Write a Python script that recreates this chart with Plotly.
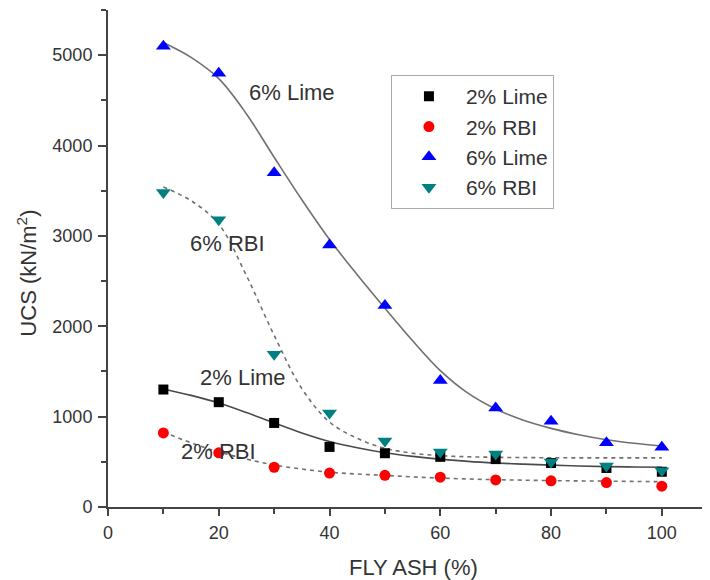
import plotly.graph_objects as go

# ---- data ----
fly_ash = [10, 20, 30, 40, 50, 60, 70, 80, 90, 100]
lime2 = [1300, 1160, 930, 665, 595, 555, 530, 487, 432, 390]
rbi2 = [820, 600, 440, 375, 350, 330, 300, 290, 270, 230]
lime6 = [5100, 4800, 3700, 2900, 2230, 1400, 1095, 950, 710, 660]
rbi6 = [3480, 3180, 1690, 1040, 730, 610, 587, 498, 454, 400]

# fitted curves at 5% steps
fit_x = [10, 15, 20, 25, 30, 35, 40, 45, 50, 55, 60, 65, 70, 75, 80, 85, 90, 95, 100]
lime6_fit = [5140, 4975, 4740, 4350, 3870, 3400, 2960, 2570, 2200, 1840, 1510, 1260,
             1085, 960, 870, 800, 745, 705, 675]
rbi6_fit = [3540, 3390, 3130, 2560, 1900, 1310, 940, 760, 650, 595, 568, 556,
            550, 547, 545, 544, 544, 544, 544]
lime2_fit = [1306, 1235, 1150, 1045, 930, 820, 725, 655, 600, 560, 530, 505,
             487, 474, 463, 454, 447, 443, 440]
rbi2_fit = [830, 710, 610, 530, 465, 420, 385, 365, 350, 333, 320, 310,
            302, 297, 292, 289, 286, 283, 280]

series_names = ["2% Lime", "2% RBI", "6% Lime", "6% RBI"]
labels = ["6% Lime", "6% RBI", "2% Lime", "2% RBI"]

FONT = "Liberation Sans, Arial, sans-serif"
TXT = "#333333"
CURVE = "#707070"
AX = "#444444"

fig = go.Figure()

# fit curves (drawn first, behind markers)
fig.add_trace(go.Scatter(x=fit_x, y=lime6_fit, mode="lines", showlegend=False,
                         line=dict(color=CURVE, width=1.6, shape="spline"), hoverinfo="skip"))
fig.add_trace(go.Scatter(x=fit_x, y=rbi6_fit, mode="lines", showlegend=False,
                         line=dict(color=CURVE, width=1.6, shape="spline", dash="4px,4px"), hoverinfo="skip"))
fig.add_trace(go.Scatter(x=fit_x, y=lime2_fit, mode="lines", showlegend=False,
                         line=dict(color="#4a4a4a", width=1.6, shape="spline"), hoverinfo="skip"))
fig.add_trace(go.Scatter(x=fit_x, y=rbi2_fit, mode="lines", showlegend=False,
                         line=dict(color=CURVE, width=1.6, shape="spline", dash="4px,4px"), hoverinfo="skip"))

# data markers
fig.add_trace(go.Scatter(x=fly_ash, y=lime2, mode="markers", name=series_names[0],
                         marker=dict(symbol="square", size=10, color="#000000")))
fig.add_trace(go.Scatter(x=fly_ash, y=rbi2, mode="markers", name=series_names[1],
                         marker=dict(symbol="circle", size=11, color="#ff0000")))
fig.add_trace(go.Scatter(x=fly_ash, y=lime6, mode="markers", name=series_names[2],
                         marker=dict(symbol="triangle-up", size=13, color="#0000ff")))
fig.add_trace(go.Scatter(x=fly_ash, y=rbi6, mode="markers", name=series_names[3],
                         marker=dict(symbol="triangle-down", size=13, color="#008080")))

ann_pos = [(33.3, 4590), (21.6, 2920), (24.3, 1430), (19.9, 610)]
for t, (ax, ay) in zip(labels, ann_pos):
    fig.add_annotation(x=ax, y=ay, xref="x", yref="y", text=t, showarrow=False,
                       font=dict(family=FONT, size=22, color=TXT))

# axis titles as paper-anchored annotations
fig.add_annotation(x=0.507, y=-0.121, xref="paper", yref="paper", text="FLY ASH (%)",
                   xanchor="center", yanchor="middle",
                   showarrow=False, font=dict(family=FONT, size=22, color=TXT))
fig.add_annotation(x=-0.135, y=0.471, xref="paper", yref="paper", text="UCS (kN/m<sup>2</sup>)",
                   xanchor="center", yanchor="middle",
                   textangle=-90, showarrow=False, font=dict(family=FONT, size=22, color=TXT))

fig.update_layout(
    width=710, height=580,
    # the page body adds an 8px offset, so the plot box is shifted to compensate
    margin=dict(l=100, r=8, t=2, b=81, autoexpand=False),
    paper_bgcolor="white", plot_bgcolor="white",
    font=dict(family=FONT, color=TXT),
    legend=dict(x=0.47, y=0.869, xanchor="left", yanchor="top",
                bordercolor="#aaaaaa", borderwidth=1, bgcolor="white",
                font=dict(family=FONT, size=21, color=TXT), itemwidth=64,
                tracegroupgap=0),
)

fig.update_xaxes(
    range=[0, 108.7], showgrid=False, zeroline=False, automargin=False,
    showline=True, linecolor=AX, linewidth=2,
    ticks="outside", ticklen=7, tickwidth=1.5, tickcolor=AX,
    tick0=0, dtick=20, tickfont=dict(family=FONT, size=18, color=TXT),
    minor=dict(ticks="outside", dtick=10, ticklen=5, tickwidth=1.5, tickcolor=AX),
    ticklabelstandoff=1,
)
fig.update_yaxes(
    range=[0, 5500], showgrid=False, zeroline=False, automargin=False,
    showline=True, linecolor=AX, linewidth=2,
    ticks="outside", ticklen=8, tickwidth=1.5, tickcolor=AX,
    tick0=0, dtick=1000, tickfont=dict(family=FONT, size=18, color=TXT),
    minor=dict(ticks="outside", dtick=500, ticklen=5, tickwidth=1.5, tickcolor=AX),
    ticklabelstandoff=2,
)

fig.write_html("out.html")
